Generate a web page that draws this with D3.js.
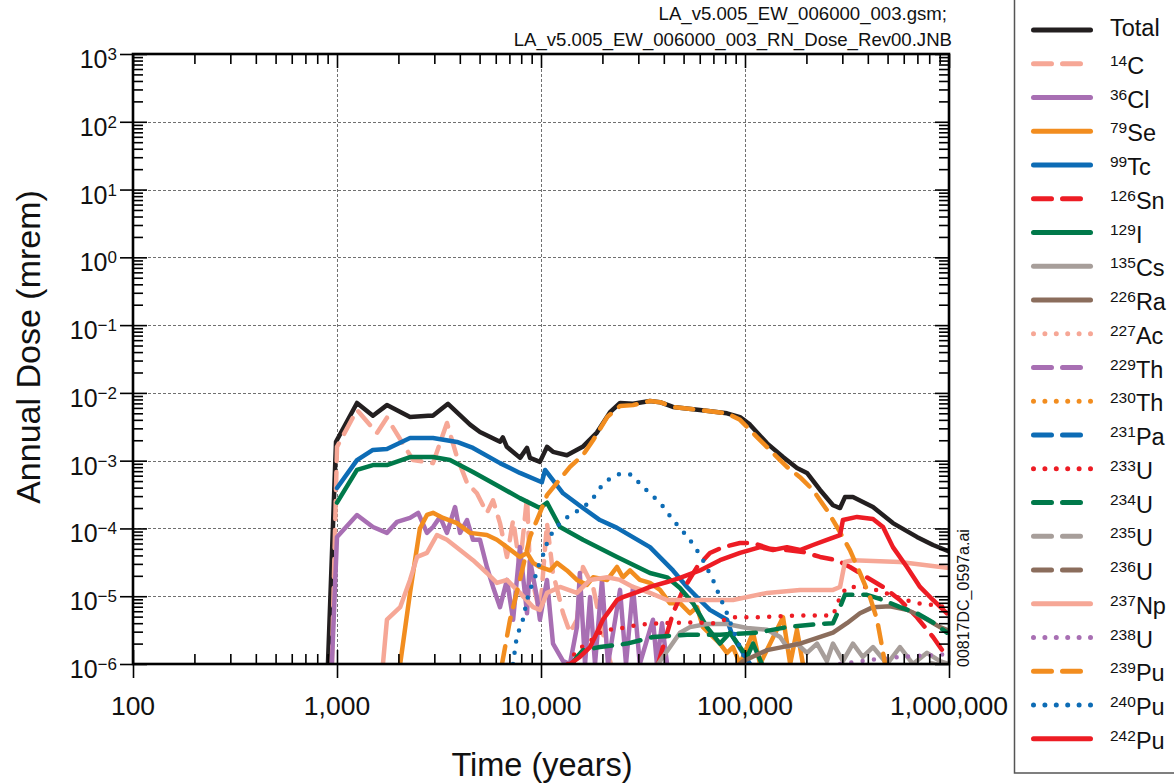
<!DOCTYPE html>
<html>
<head>
<meta charset="utf-8">
<script src="https://cdn.jsdelivr.net/npm/d3@7"></script>
<style>
  body { margin: 0; background: #fff; }
  svg { display: block; font-family: "Liberation Sans", Arial, sans-serif; }
</style>
</head>
<body>
<script>
'use strict';

// ---- data: [time (years), annual dose (mrem)] ----
const total = [[903,1e-6],[989,1.9e-3],[1253,7.1e-3],[1500,4.6e-3],[1757,6.6e-3],[2280,4.4e-3],[2800,4.6e-3],[2950,4.6e-3],[3500,6.9e-3],[4490,3.4e-3],[5020,2.65e-3],[6300,1.9e-3],[6500,2.2e-3],[6800,1.6e-3],[7900,1.1e-3],[8540,1.55e-3],[8830,1.1e-3],[9880,9.6e-4],[10700,1.6e-3],[11450,1.35e-3],[13400,1.2e-3],[16000,1.6e-3],[18800,2.6e-3],[21800,5.2e-3],[24400,7.1e-3],[28250,6.9e-3],[34200,7.6e-3],[38300,7.3e-3],[44350,6.2e-3],[60100,5.6e-3],[81600,5.0e-3],[94500,4.4e-3],[105800,3.4e-3],[128300,1.8e-3],[153600,1.13e-3],[179800,7.8e-4],[201300,6.6e-4],[233300,3.7e-4],[270000,2.2e-4],[292300,2.0e-4],[309000,2.9e-4],[338200,2.9e-4],[424000,2.07e-4],[531000,1.2e-4],[696000,7.5e-5],[835000,5.7e-5],[1000000,4.6e-5]];
const c14 = [[944,1e-6],[1000,1.6e-3],[1253,5.6e-3],[1570,2.56e-3],[1757,4.3e-3],[2360,1.02e-3],[2955,9.2e-4],[3460,3.6e-3],[3875,1.13e-3],[4340,4.7e-4],[4850,3.3e-4],[5430,1.7e-4],[5820,2.6e-4],[6295,1.2e-4],[6810,3.8e-5],[7300,1.33e-4],[7880,2.7e-5],[8540,2.9e-4],[8830,2.4e-5],[9880,5.6e-6],[10700,1.2e-4],[11450,2.2e-5],[12830,5.6e-6],[13870,2.9e-6],[15000,4.5e-6],[16060,2.7e-5],[18000,1.37e-5],[20000,3e-6],[22000,1e-6]];
const cl36 = [[944,1e-6],[1000,7.5e-5],[1253,1.58e-4],[1500,1.05e-4],[1757,8.6e-5],[1970,1.25e-4],[2280,1.43e-4],[2500,1.7e-4],[2760,8.6e-5],[2955,1.05e-4],[3200,1.48e-4],[3460,8.6e-5],[3790,2.07e-4],[4010,8.6e-5],[4340,1.33e-4],[4640,6.8e-5],[5020,6.8e-5],[5430,2.7e-5],[5820,1.37e-5],[6295,6.9e-6],[6810,1.74e-5],[7300,4.5e-6],[7880,5.3e-5],[8540,5.6e-6],[8830,3.4e-5],[9550,9.7e-6],[9880,4.5e-6],[10700,1.74e-5],[11450,2.0e-6],[12830,1.1e-6],[13870,1e-6],[15000,3.5e-6],[15500,2.2e-5],[16440,1e-6],[17400,9.7e-6],[18400,1e-6],[19900,1.74e-5],[21300,1e-6],[24400,1.24e-5],[26100,1e-6],[28250,1.37e-5],[30500,1e-6],[35400,4.5e-6],[37000,1e-6],[39200,4.0e-6],[41500,1e-6]];
const se79 = [[2040,1e-6],[2280,1.12e-5],[2550,1.0e-4],[2760,1.58e-4],[2955,1.7e-4],[3310,1.43e-4],[3875,1.2e-4],[4490,8.6e-5],[5430,8.0e-5],[6080,6.8e-5],[6810,5.3e-5],[7880,3.8e-5],[8540,4.35e-5],[9150,3.1e-5],[9880,2.7e-5],[11070,2.4e-5],[11970,3.1e-5],[13400,2.4e-5],[15000,1.74e-5],[16800,1.47e-5],[18000,1.9e-5],[21100,1.74e-5],[23600,2.7e-5],[25200,1.9e-5],[27300,2.4e-5],[30500,1.74e-5],[34200,1.57e-5],[38300,1.24e-5],[42800,7.9e-6],[48000,7.9e-6],[53700,5.6e-6],[58200,6.9e-6],[62200,3.5e-6],[75400,2.0e-6],[81600,1.46e-6],[87300,1.78e-6],[94500,1e-6],[109500,2.9e-6],[118500,1e-6],[153600,4.9e-6],[166500,1e-6],[179800,3.2e-6],[192300,1e-6]];
const tc99 = [[1000,3.95e-4],[1253,1.02e-3],[1500,1.44e-3],[1757,1.49e-3],[2280,2.16e-3],[2955,2.16e-3],[3875,1.89e-3],[4640,1.54e-3],[6295,9.2e-4],[7880,6.6e-4],[10100,4.8e-4],[10470,7.3e-4],[12830,3.3e-4],[16060,2.0e-4],[19450,1.33e-4],[23600,1.02e-4],[34200,5.3e-5],[44350,2.4e-5],[52000,1.37e-5],[60100,8.8e-6],[67300,6.3e-6],[81600,4.5e-6],[87300,2.5e-6],[97700,1.46e-6],[105800,1e-6]];
const sn126 = [[37500,1e-6],[39200,1.6e-6],[44350,5.6e-6],[49700,1.24e-5],[58200,2.7e-5],[67300,4.35e-5],[78000,5.3e-5],[94500,6.1e-5],[109500,6.1e-5],[132800,5.0e-5],[160600,4.8e-5],[192300,4.5e-5],[233300,3.8e-5],[282500,3.4e-5],[327000,2.7e-5],[396000,1.9e-5],[475000,1.37e-5],[575000,8.8e-6],[696000,4.9e-6],[835000,2.5e-6],[977000,1.27e-6]];
const i129 = [[1000,2.4e-4],[1253,7.3e-4],[1500,8.6e-4],[1757,8.6e-4],[2280,1.13e-3],[2955,1.13e-3],[3580,1.02e-3],[4640,6.8e-4],[6295,4.1e-4],[7880,2.8e-4],[9880,2.0e-4],[10700,2.4e-4],[12400,1.05e-4],[16060,6.8e-5],[23600,3.8e-5],[34200,2.2e-5],[41500,1.9e-5],[48000,1.32e-5],[55600,7.9e-6],[65100,3.5e-6],[75400,2.0e-6],[84400,2.9e-6],[94500,1.78e-6],[102300,1.27e-6],[109500,2.0e-6],[121000,1e-6]];
const cs135 = [[37500,1e-6],[39600,1.27e-6],[42900,1.78e-6],[48000,2.9e-6],[53700,3.5e-6],[65100,3.9e-6],[81600,3.9e-6],[102300,3.4e-6],[128300,3.2e-6],[148600,2.5e-6],[160600,1.78e-6],[179800,2.0e-6],[201300,1.46e-6],[225500,2.0e-6],[252000,1.1e-6],[270000,2.0e-6],[302000,1.1e-6],[338200,2.0e-6],[378000,1.27e-6],[424000,1.78e-6],[497000,1e-6],[575000,1.78e-6],[666000,1e-6],[780000,1.46e-6],[903000,1.1e-6],[1000000,1e-6]];
const ra226 = [[94500,1e-6],[97700,1.1e-6],[128300,1.6e-6],[186000,2.0e-6],[270000,2.9e-6],[316000,4.0e-6],[366000,5.6e-6],[424000,6.9e-6],[514000,7.1e-6],[622000,6.3e-6],[747000,4.9e-6],[903000,3.5e-6],[1000000,3.1e-6]];
const ac227 = [[300000,5e-7],[1000000,8e-7]];
const th229 = [[300000,4e-7],[1000000,7e-7]];
const th230 = [[600000,6e-7],[1000000,9e-7]];
const pa231 = [[300000,3e-7],[1000000,5e-7]];
const u233 = [[13550,1e-6],[15000,1.6e-6],[17400,2.16e-6],[19450,2.9e-6],[22500,3.3e-6],[25200,3.4e-6],[28900,3.7e-6],[33100,3.9e-6],[39600,4.0e-6],[53700,4.1e-6],[69700,4.0e-6],[87300,4.9e-6],[114500,4.9e-6],[186000,5.2e-6],[270000,5.2e-6],[292300,9.7e-6],[316000,1.37e-5],[396000,1.37e-5],[475000,1.15e-5],[575000,9.4e-6],[696000,7.9e-6],[835000,7.4e-6],[977000,6.9e-6]];
const u234 = [[14200,1e-6],[15000,1.27e-6],[16060,1.6e-6],[19450,1.78e-6],[26400,2.0e-6],[35400,2.5e-6],[52000,2.7e-6],[75400,2.7e-6],[114500,2.9e-6],[160600,3.5e-6],[233300,3.9e-6],[270000,4.0e-6],[292300,6.9e-6],[309000,1.05e-5],[396000,1.05e-5],[475000,8.8e-6],[575000,6.9e-6],[696000,5.6e-6],[835000,4.1e-6],[977000,2.9e-6]];
const u235 = [[600000,8e-7],[800000,1.05e-6],[1000000,9e-7]];
const u236 = [[400000,5e-7],[1000000,8e-7]];
const np237 = [[1680,1e-6],[1757,4.5e-6],[2040,6.9e-6],[2280,1.74e-5],[2470,3.8e-5],[2760,4.35e-5],[3090,8.0e-5],[3460,6.8e-5],[4010,4.8e-5],[4640,3.4e-5],[5430,2.2e-5],[6080,1.57e-5],[6810,1.74e-5],[7880,1.12e-5],[9150,6.9e-6],[9880,6.3e-6],[10700,1.12e-5],[12400,1.37e-5],[15000,1.12e-5],[17400,1.74e-5],[21100,1.9e-5],[24400,1.74e-5],[28250,1.37e-5],[34200,1.12e-5],[41500,8.8e-6],[60100,8.8e-6],[87300,8.8e-6],[128300,1.12e-5],[186000,1.24e-5],[270000,1.24e-5],[292300,1.37e-5],[309000,3.2e-5],[338200,3.4e-5],[575000,3.2e-5],[1000000,2.6e-5]];
const u238 = [[292300,1e-6],[410000,1.15e-6],[575000,1.27e-6],[1000000,1.4e-6]];
const pu239 = [[6440,1e-6],[7050,4.5e-6],[7880,1.74e-5],[8830,7.5e-5],[9880,1.7e-4],[10700,3.1e-4],[11970,4.7e-4],[13870,8.1e-4],[16060,1.21e-3],[18000,2.0e-3],[21100,4.4e-3],[24400,6.4e-3],[28250,6.6e-3],[34200,7.6e-3],[38300,7.3e-3],[44350,6.2e-3],[60100,5.6e-3],[81600,5.0e-3],[94500,4.0e-3],[114500,2.23e-3],[137000,1.3e-3],[160600,8.1e-4],[186000,5.7e-4],[215300,3.7e-4],[252000,1.87e-4],[282500,1.05e-4],[327000,4.8e-5],[366000,2.2e-5],[410000,9.7e-6],[444000,4.5e-6],[470000,1.78e-6],[486000,1e-6]];
const pu240 = [[7290,1e-6],[7630,2.7e-6],[8070,3.9e-6],[8540,8.8e-6],[8830,1.24e-5],[9350,1.9e-5],[9670,2.7e-5],[10230,4.05e-5],[10700,6.1e-5],[11330,8.6e-5],[12400,1.2e-4],[13870,1.58e-4],[16060,2.0e-4],[18000,2.8e-4],[19450,3.95e-4],[21800,5.5e-4],[24400,6.4e-4],[27900,6.2e-4],[31300,4.2e-4],[35000,3.1e-4],[39200,2.2e-4],[42900,1.53e-4],[46900,1.09e-4],[52000,7.7e-5],[56900,5.3e-5],[62200,3.4e-5],[69700,1.74e-5],[75400,9.7e-6],[81600,5.6e-6],[87300,3.2e-6],[94500,1.78e-6],[102300,1e-6]];
const pu242 = [[13870,1e-6],[15500,1.27e-6],[17400,1.78e-6],[18800,2.9e-6],[20100,4.5e-6],[21800,6.3e-6],[23600,8.8e-6],[25200,9.7e-6],[29600,1.15e-5],[34200,1.37e-5],[41500,1.62e-5],[48000,1.86e-5],[60100,2.4e-5],[75400,3.4e-5],[94500,4.35e-5],[118500,5.3e-5],[137000,4.8e-5],[160600,5.3e-5],[186000,4.8e-5],[215300,5.7e-5],[252000,6.8e-5],[292300,8.0e-5],[302000,1.33e-4],[354000,1.48e-4],[424000,1.38e-4],[475000,1.05e-4],[531000,5.3e-5],[622000,2.7e-5],[721000,1.37e-5],[835000,8.8e-6],[977000,5.6e-6]];

// legend order
const massNumbers = ["", "14", "36", "79", "99", "126", "129", "135", "226", "227", "229", "230", "231", "233", "234", "235", "236", "237", "238", "239", "240", "242"];
const symbols = ["Total", "C", "Cl", "Se", "Tc", "Sn", "I", "Cs", "Ra", "Ac", "Th", "Th", "Pa", "U", "U", "U", "U", "Np", "U", "Pu", "Pu", "Pu"];
const seriesData = [total, c14, cl36, se79, tc99, sn126, i129, cs135, ra226, ac227, th229, th230, pa231, u233, u234, u235, u236, np237, u238, pu239, pu240, pu242];

const xTicks = [100, 1000, 10000, 100000, 1000000];
const xTickLabels = ["100", "1,000", "10,000", "100,000", "1,000,000"];
const yTicks = [1e3, 1e2, 1e1, 1e0, 1e-1, 1e-2, 1e-3, 1e-4, 1e-5, 1e-6];
const yExponents = ["3", "2", "1", "0", "\u22121", "\u22122", "\u22123", "\u22124", "\u22125", "\u22126"];

// ---- styling ----
const palette = {
  black: "#231f20", salmon: "#f6a796", purple: "#a86fb3", orange: "#f28d1f",
  blue: "#0d6cb5", red: "#ed1c24", green: "#00794a", gray: "#a79e9a", brown: "#8b6d5c"
};
const colors = ["black", "salmon", "purple", "orange", "blue", "red", "green", "gray", "brown",
  "salmon", "purple", "orange", "blue", "red", "green", "gray", "brown",
  "salmon", "purple", "orange", "blue", "red"].map(k => palette[k]);
const styles = ["solid", "dash", "solid", "solid", "solid", "dash", "solid", "solid", "solid",
  "dot", "dash", "dot", "dash", "dot", "dash", "dash", "dash",
  "solid", "dot", "dash", "dot", "solid"];
const dashArray = {solid: null, dash: "18 11", dot: "0 11.4"};

const W = 1174, H = 784;
const plot = {left: 133, right: 949, top: 54, bottom: 664};

const svg = d3.select("body").append("svg")
  .attr("width", W).attr("height", H);

const x = d3.scaleLog().domain([100, 1e6]).range([plot.left, plot.right]);
const y = d3.scaleLog().domain([1e-6, 1e3]).range([plot.bottom, plot.top]);

const minorX = [], minorY = [];
for (let e = 2; e < 6; e++) for (let k = 2; k <= 9; k++) minorX.push(k * Math.pow(10, e));
for (let e = -6; e < 3; e++) for (let k = 2; k <= 9; k++) minorY.push(k * Math.pow(10, e));

// grid
const grid = svg.append("g").attr("stroke", "#707070").attr("stroke-width", 1)
  .attr("stroke-dasharray", "3 2").attr("fill", "none");
grid.selectAll("line.gx").data(xTicks.slice(1, -1)).join("line")
  .attr("x1", d => Math.round(x(d)) + 0.5).attr("x2", d => Math.round(x(d)) + 0.5)
  .attr("y1", plot.top).attr("y2", plot.bottom);
grid.selectAll("line.gy").data(yTicks.slice(1, -1)).join("line")
  .attr("y1", d => Math.round(y(d)) + 0.5).attr("y2", d => Math.round(y(d)) + 0.5)
  .attr("x1", plot.left).attr("x2", plot.right);

// curves
svg.append("clipPath").attr("id", "clip").append("rect")
  .attr("x", plot.left).attr("y", plot.top)
  .attr("width", plot.right - plot.left).attr("height", plot.bottom - plot.top);

const line = d3.line().x(d => x(d[0])).y(d => y(d[1]));
const curves = svg.append("g").attr("clip-path", "url(#clip)");
seriesData.forEach((data, i) => {
  curves.append("path")
    .attr("d", line(data))
    .attr("fill", "none")
    .attr("stroke", colors[i])
    .attr("stroke-width", 4.5)
    .attr("stroke-linejoin", "round")
    .attr("stroke-linecap", "round")
    .attr("stroke-dasharray", dashArray[styles[i]]);
});

// axes (ticks drawn by d3.axis, frame drawn separately)
function ticksOnly(axis, transform) {
  const g = svg.append("g").attr("transform", transform).call(axis.tickFormat(""));
  g.select(".domain").remove();
  g.selectAll(".tick line").attr("stroke", "#000").attr("stroke-width", 1.6);
  return g;
}
const bx = `translate(0,${plot.bottom})`, tx = `translate(0,${plot.top})`;
const ly = `translate(${plot.left},0)`, ry = `translate(${plot.right},0)`;
ticksOnly(d3.axisBottom(x).tickValues(xTicks).tickSize(14), bx);
ticksOnly(d3.axisBottom(x).tickValues(xTicks).tickSize(-14), bx);
ticksOnly(d3.axisBottom(x).tickValues(minorX).tickSize(-10), bx);
ticksOnly(d3.axisTop(x).tickValues(xTicks).tickSize(-14), tx);
ticksOnly(d3.axisTop(x).tickValues(minorX).tickSize(-10), tx);
ticksOnly(d3.axisLeft(y).tickValues(yTicks).tickSize(13), ly);
ticksOnly(d3.axisLeft(y).tickValues(yTicks).tickSize(-14), ly);
ticksOnly(d3.axisLeft(y).tickValues(minorY).tickSize(-10), ly);
ticksOnly(d3.axisRight(y).tickValues(yTicks).tickSize(-14), ry);
ticksOnly(d3.axisRight(y).tickValues(minorY).tickSize(-10), ry);

svg.append("rect")
  .attr("x", plot.left).attr("y", plot.top)
  .attr("width", plot.right - plot.left).attr("height", plot.bottom - plot.top)
  .attr("fill", "none").attr("stroke", "#000").attr("stroke-width", 2.6);

// tick labels
svg.append("g").selectAll("text").data(xTicks).join("text")
  .attr("x", d => x(d)).attr("y", 715)
  .attr("text-anchor", "middle").attr("font-size", 26.5).attr("fill", "#111")
  .text((d, i) => xTickLabels[i]);

const yl = svg.append("g").selectAll("text").data(yTicks).join("text")
  .attr("x", 117).attr("y", d => y(d) + 14)
  .attr("text-anchor", "end").attr("font-size", 25).attr("fill", "#111");
yl.append("tspan").text("10");
yl.append("tspan").attr("dy", -8).attr("font-size", 17).text((d, i) => yExponents[i]);

// titles
svg.append("text").attr("x", 542).attr("y", 776)
  .attr("text-anchor", "middle").attr("font-size", 32.5).attr("fill", "#111")
  .text("Time (years)");
svg.append("text").attr("transform", "translate(40,347) rotate(-90)")
  .attr("text-anchor", "middle").attr("font-size", 34).attr("fill", "#111")
  .text("Annual Dose (mrem)");

svg.append("text").attr("x", 947).attr("y", 20).attr("text-anchor", "end")
  .attr("font-size", 18.6).attr("fill", "#111").text("LA_v5.005_EW_006000_003.gsm;");
svg.append("text").attr("x", 952).attr("y", 46).attr("text-anchor", "end")
  .attr("font-size", 18.6).attr("fill", "#111").text("LA_v5.005_EW_006000_003_RN_Dose_Rev00.JNB");
svg.append("text").attr("transform", "translate(969,667) rotate(-90)")
  .attr("font-size", 16).attr("fill", "#111").text("00817DC_0597a.ai");

// legend
const legend = svg.append("g");
legend.append("rect").attr("x", 1014.5).attr("y", -10).attr("width", 200).attr("height", 783)
  .attr("fill", "#fff").attr("stroke", "#555").attr("stroke-width", 1.5);
const rowY = i => 30 + i * 33.75;
legend.selectAll("g.row").data(seriesData).join("g")
  .attr("class", "row")
  .attr("transform", (d, i) => `translate(0,${rowY(i)})`)
  .each(function(d, i) {
    const row = d3.select(this);
    row.append("line")
      .attr("x1", 1033.5).attr("x2", 1090.5).attr("y1", 0).attr("y2", 0)
      .attr("stroke", colors[i]).attr("stroke-width", 5)
      .attr("stroke-linecap", "round")
      .attr("stroke-dasharray", dashArray[styles[i]]);
    const t = row.append("text").attr("x", 1110).attr("y", massNumbers[i] ? 10 : 6)
      .attr("font-size", 23.5).attr("fill", "#111");
    if (massNumbers[i]) {
      t.append("tspan").attr("font-size", 15.5).attr("dy", -8).text(massNumbers[i]);
      t.append("tspan").attr("dy", 8).text(symbols[i]);
    } else {
      t.text(symbols[i]);
    }
  });
</script>
</body>
</html>
